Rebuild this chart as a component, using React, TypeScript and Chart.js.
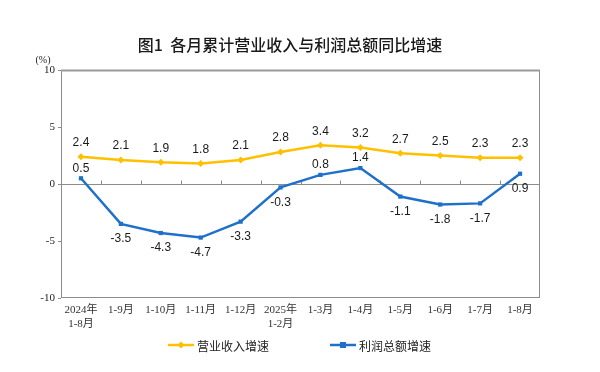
import React, { useEffect, useRef } from "react";
import { Chart, registerables } from "chart.js";

Chart.register(...registerables);

const categories: (string | string[])[] = [
  ["2024年", "1-8月"], "1-9月", "1-10月", "1-11月", "1-12月", ["2025年", "1-2月"],
  "1-3月", "1-4月", "1-5月", "1-6月", "1-7月", "1-8月",
];
const revenueGrowth = [2.4, 2.1, 1.9, 1.8, 2.1, 2.8, 3.4, 3.2, 2.7, 2.5, 2.3, 2.3];
const profitGrowth = [0.5, -3.5, -4.3, -4.7, -3.3, -0.3, 0.8, 1.4, -1.1, -1.8, -1.7, 0.9];
const profitLabelBelow = [false, true, true, true, true, true, false, false, true, true, true, true];
const seriesNames = ["营业收入增速", "利润总额增速"];
const titleText = "图1  各月累计营业收入与利润总额同比增速";
const yUnit = "(%)";

const YELLOW = "#FFC000";
const BLUE = "#1F70C8";
const CJK = '"Noto Sans CJK SC", "Liberation Sans", sans-serif';
const SERIF = '"Liberation Serif", "Noto Sans CJK SC", serif';

const decorPlugin = {
  id: "decor",
  beforeDatasetsDraw(chart: any) {
    const { ctx, chartArea } = chart;
    const { left, right, top, bottom } = chartArea;
    ctx.save();
    ctx.strokeStyle = "#8c8c8c";
    ctx.lineWidth = 1;
    ctx.strokeRect(left + 0.5, top + 0.5, right - left - 1, bottom - top - 1);
    ctx.lineWidth = 2;
    ctx.strokeStyle = "#9a9a9a";
    ctx.beginPath();
    ctx.moveTo(left, top + 0.5);
    ctx.lineTo(right, top + 0.5);
    ctx.stroke();
    const y0 = Math.round(chart.scales.y.getPixelForValue(0)) + 0.5;
    ctx.lineWidth = 1;
    ctx.strokeStyle = "#8c8c8c";
    ctx.beginPath();
    ctx.moveTo(left, y0);
    ctx.lineTo(right, y0);
    const n = categories.length;
    const w = (right - left) / n;
    for (let i = 1; i < n; i++) {
      const x = Math.round(left + w * i) + 0.5;
      ctx.moveTo(x, y0);
      ctx.lineTo(x, y0 - 4);
    }
    for (const v of [-10, -5, 0, 5, 10]) {
      const yy = Math.round(chart.scales.y.getPixelForValue(v)) + 0.5;
      ctx.moveTo(left - 3, yy);
      ctx.lineTo(left, yy);
    }
    ctx.stroke();
    ctx.restore();
  },
  afterDatasetsDraw(chart: any) {
    const { ctx } = chart;
    ctx.save();
    ctx.font = '12px "Liberation Sans", Arial, sans-serif';
    ctx.fillStyle = "#1a1a1a";
    ctx.textAlign = "center";
    ctx.textBaseline = "middle";
    const m0 = chart.getDatasetMeta(0);
    m0.data.forEach((p: any, i: number) => {
      ctx.fillText(revenueGrowth[i].toFixed(1), p.x, p.y - 14);
    });
    const m1 = chart.getDatasetMeta(1);
    m1.data.forEach((p: any, i: number) => {
      const below = profitLabelBelow[i];
      ctx.fillText(profitGrowth[i].toFixed(1), p.x, below ? p.y + 15 : p.y - 10);
    });

    ctx.font = `500 16px ${CJK}`;
    ctx.fillStyle = "#1a1a1a";
    ctx.fillText(titleText, 290, 45);
    ctx.font = `10px ${SERIF}`;
    ctx.fillText(yUnit, 43, 60);

    const ly = 345;
    ctx.font = `12px ${CJK}`;
    ctx.textAlign = "left";
    const items = [
      { x: 168, color: YELLOW, name: seriesNames[0], shape: "diamond" },
      { x: 330, color: BLUE, name: seriesNames[1], shape: "square" },
    ];
    for (const it of items) {
      ctx.strokeStyle = it.color;
      ctx.fillStyle = it.color;
      ctx.lineWidth = 2.5;
      ctx.beginPath();
      ctx.moveTo(it.x, ly);
      ctx.lineTo(it.x + 26, ly);
      ctx.stroke();
      const cx = it.x + 13;
      ctx.beginPath();
      if (it.shape === "diamond") {
        ctx.moveTo(cx, ly - 3.5);
        ctx.lineTo(cx + 3.5, ly);
        ctx.lineTo(cx, ly + 3.5);
        ctx.lineTo(cx - 3.5, ly);
        ctx.closePath();
        ctx.fill();
      } else {
        ctx.fillRect(cx - 3, ly - 3, 6, 6);
      }
      ctx.fillStyle = "#222";
      ctx.fillText(it.name, it.x + 29, ly + 1);
    }
    ctx.restore();
  },
};

export default function App() {
  const ref = useRef<HTMLCanvasElement>(null);
  useEffect(() => {
    if (!ref.current) return;
    const chart = new Chart(ref.current, {
      type: "line",
      data: {
        labels: categories as any,
        datasets: [
          {
            label: seriesNames[0],
            data: revenueGrowth,
            borderColor: YELLOW,
            backgroundColor: YELLOW,
            borderWidth: 2.5,
            pointStyle: "rectRot",
            pointRadius: 3.5,
            pointBorderWidth: 0,
            tension: 0,
          },
          {
            label: seriesNames[1],
            data: profitGrowth,
            borderColor: BLUE,
            backgroundColor: BLUE,
            borderWidth: 2.5,
            pointStyle: "rect",
            pointRadius: 3,
            pointBorderWidth: 0,
            tension: 0,
          },
        ],
      },
      options: {
        animation: false,
        responsive: false,
        devicePixelRatio: 1,
        layout: { padding: { left: 0, right: 60, top: 70, bottom: 0 } },
        plugins: {
          legend: { display: false },
          title: { display: false },
          tooltip: { enabled: false },
        },
        scales: {
          x: {
            offset: true,
            grid: { display: false, drawTicks: false },
            border: { display: false },
            ticks: {
              padding: 6,
              maxRotation: 0,
              autoSkip: false,
              color: "#333",
              font: { family: SERIF, size: 11 },
            },
            afterFit(scale: any) {
              scale.height = 74;
            },
          },
          y: {
            min: -10,
            max: 10,
            grid: { display: false, drawTicks: false },
            border: { display: false },
            ticks: {
              stepSize: 5,
              padding: 6,
              color: "#222",
              font: { family: SERIF, size: 11 },
            },
            afterFit(scale: any) {
              scale.width = 61;
            },
          },
        },
      },
      plugins: [decorPlugin],
    });
    return () => chart.destroy();
  }, []);
  return (
    <div style={{ position: "absolute", left: 0, top: 0, width: 600, height: 372, background: "#fff" }}>
      <canvas ref={ref} width={600} height={372} style={{ width: 600, height: 372 }} />
    </div>
  );
}
